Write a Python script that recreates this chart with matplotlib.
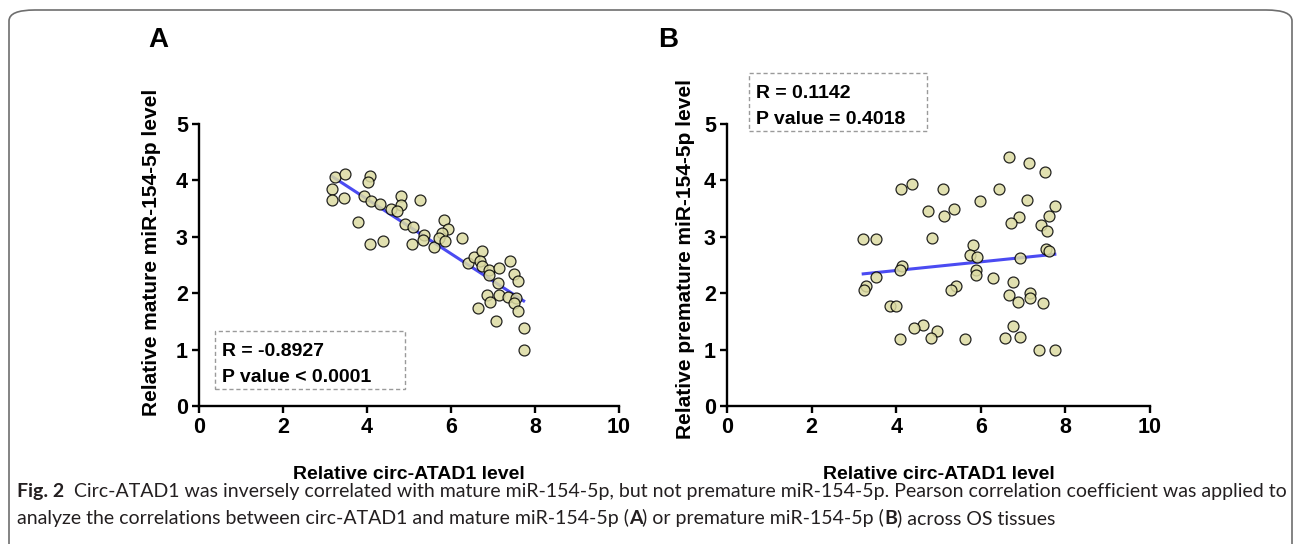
import numpy as np
import matplotlib
matplotlib.use("Agg")
import matplotlib.pyplot as plt
from matplotlib.patches import FancyBboxPatch, Rectangle

plt.rcParams['font.family'] = ['Liberation Sans', 'DejaVu Sans']

# Panel A: circ-ATAD1 vs mature miR-154-5p
circ_a = [3.24, 3.48, 4.06, 4.03, 3.17, 3.17, 3.46, 3.94, 4.10, 4.32, 4.81, 4.80,
          4.57, 4.71, 5.25, 3.79, 4.06, 4.38, 4.91, 5.10, 5.07, 5.36, 5.33, 5.60,
          5.84, 5.93, 5.79, 5.72, 5.86, 6.27, 6.40, 6.54, 6.73, 6.70, 6.74, 6.90,
          6.91, 7.14, 7.41, 7.49, 7.59, 7.12, 6.85, 7.14, 7.35, 7.55, 6.92, 7.49,
          6.64, 7.59, 7.07, 7.73, 7.73]
mature = [4.06, 4.12, 4.08, 3.98, 3.85, 3.66, 3.68, 3.72, 3.63, 3.59, 3.72, 3.56,
          3.50, 3.46, 3.65, 3.27, 2.87, 2.93, 3.23, 3.17, 2.88, 3.04, 2.94, 2.82,
          3.29, 3.14, 3.06, 2.97, 2.92, 2.97, 2.53, 2.65, 2.74, 2.57, 2.49, 2.41,
          2.32, 2.44, 2.57, 2.34, 2.22, 2.18, 1.97, 1.96, 1.94, 1.91, 1.84, 1.82,
          1.73, 1.69, 1.51, 1.39, 0.99]

# Panel B: circ-ATAD1 vs premature miR-154-5p
circ_b = [6.67, 7.14, 7.51, 4.11, 4.37, 5.11, 6.42, 5.97, 7.09, 7.75, 7.61, 7.43,
          7.57, 4.74, 5.37, 5.14, 6.91, 6.71, 3.22, 3.52, 4.85, 5.81, 5.74, 5.91,
          6.93, 7.53, 7.62, 4.14, 4.10, 5.88, 5.89, 3.53, 3.28, 3.23, 6.30, 6.76,
          5.41, 5.30, 6.66, 7.17, 7.16, 6.89, 7.46, 3.85, 4.00, 4.63, 4.42, 4.96,
          4.83, 4.08, 5.63, 6.76, 6.57, 6.93, 7.38, 7.75]
premature = [4.41, 4.30, 4.15, 3.85, 3.93, 3.84, 3.85, 3.63, 3.66, 3.54, 3.37, 3.21,
             3.10, 3.45, 3.49, 3.36, 3.35, 3.24, 2.96, 2.96, 2.98, 2.85, 2.68, 2.65,
             2.62, 2.79, 2.75, 2.48, 2.42, 2.41, 2.32, 2.29, 2.12, 2.05, 2.27, 2.19,
             2.12, 2.06, 1.96, 2.00, 1.91, 1.84, 1.82, 1.78, 1.78, 1.44, 1.39, 1.33,
             1.20, 1.19, 1.18, 1.42, 1.20, 1.23, 0.99, 1.00]

xticks = [0, 2, 4, 6, 8, 10]
yticks = [0, 1, 2, 3, 4, 5]

W, H = 1295, 544
fig = plt.figure(figsize=(W / 100, H / 100), dpi=100)


def px_axes(left, right, bottom, top):
    return fig.add_axes([left / W, 1 - bottom / H, (right - left) / W, (bottom - top) / H])


def prism_style(ax, ylabel, ylab_pos):
    ax.set_xlim(0, 10)
    ax.set_ylim(0, 5)
    ax.set_xticks(xticks)
    ax.set_yticks(yticks)
    for s in ['top', 'right']:
        ax.spines[s].set_visible(False)
    for s in ['left', 'bottom']:
        ax.spines[s].set_linewidth(1.7)
    ax.tick_params(width=1.7, length=5, direction='out', labelsize=15.5, pad=3)
    for lab in ax.get_xticklabels() + ax.get_yticklabels():
        lab.set_fontweight('bold')
    ax.set_xlabel('Relative circ-ATAD1 level', fontsize=14, fontweight='bold', labelpad=20)
    ax.set_ylabel(ylabel, fontsize=15, fontweight='bold', va='center')
    ax.yaxis.set_label_coords(*ylab_pos)


def scatter_fit(ax, x, y):
    x = np.array(x)
    y = np.array(y)
    k, b = np.polyfit(x, y, 1)
    xs = np.array([x.min(), x.max()])
    ax.plot(xs, k * xs + b, color='#4b4bf2', lw=2.2, zorder=2)
    ax.scatter(x, y, s=62, facecolor='#dcdba2', edgecolor='black', linewidth=0.9,
               alpha=0.85, zorder=3, clip_on=False)


axA = px_axes(199, 619, 406, 124)
prism_style(axA, 'Relative mature miR-154-5p level', (-0.112, 0.543))
scatter_fit(axA, circ_a, mature)

axB = px_axes(727, 1150, 406, 124)
prism_style(axB, 'Relative premature miR-154-5p level', (-0.099, 0.52))
scatter_fit(axB, circ_b, premature)


def stat_box(x0, y0, x1, y1, lines):
    fig.patches.append(Rectangle((x0 / W, 1 - y1 / H), (x1 - x0) / W, (y1 - y0) / H,
                                 transform=fig.transFigure, fill=False, ec='#9a9a9a',
                                 lw=1.0, ls=(0, (3, 2))))
    for i, t in enumerate(lines):
        fig.text((x0 + 7) / W, 1 - (y0 + 20 + 26 * i) / H, t, fontsize=14,
                 fontweight='bold', va='center', ha='left')


stat_box(215, 331, 405, 389, ['R = -0.8927', 'P value < 0.0001'])
stat_box(749, 73, 927, 131, ['R = 0.1142', 'P value = 0.4018'])

fig.text(158 / W, 1 - 40 / H, 'A', fontsize=20, fontweight='bold', ha='center', va='center')
fig.text(668 / W, 1 - 40 / H, 'B', fontsize=20, fontweight='bold', ha='center', va='center')

# outer rounded frame
fig.patches.append(FancyBboxPatch((9 / W, -0.2), (1283 / W), 1 - 10 / H + 0.2,
                                  boxstyle='round,pad=0,rounding_size=0.02',
                                  transform=fig.transFigure, fill=False,
                                  ec='#6e6e6e', lw=1.2))

# caption built piece by piece so bold parts sit inline
cap_font = ['Lato', 'Liberation Sans', 'DejaVu Sans']
caption1 = [('Fig. 2', 'bold'), ('  Circ-ATAD1 was inversely correlated with mature miR-154-5p, '
            'but not premature miR-154-5p. Pearson correlation coefficient was applied to', 'normal')]
caption2 = [('analyze the correlations between circ-ATAD1 and mature miR-154-5p (', 'normal'),
            ('A', 'bold'), (') or premature miR-154-5p (', 'normal'), ('B', 'bold'),
            (') across OS tissues', 'normal')]

renderer = fig.canvas.get_renderer()


def rich_line(pieces, x_px, y_px, size, draw=True):
    x = x_px
    for txt, wt in pieces:
        t = fig.text(x / W, 1 - y_px / H, txt, fontsize=size, fontweight=wt,
                     family=cap_font, va='center', ha='left', color='#231f20')
        bb = t.get_window_extent(renderer=renderer)
        x += bb.width
        if not draw:
            t.remove()
    return x


# pick the caption size so the first line fills the frame width like the original
probe = rich_line(caption1, 17, 491, 12, draw=False)
cap_size = 12 * (1279 - 17) / (probe - 17)
rich_line(caption1, 17, 491, cap_size)
rich_line(caption2, 17, 518, cap_size)

fig.savefig('out.png', dpi=100)
